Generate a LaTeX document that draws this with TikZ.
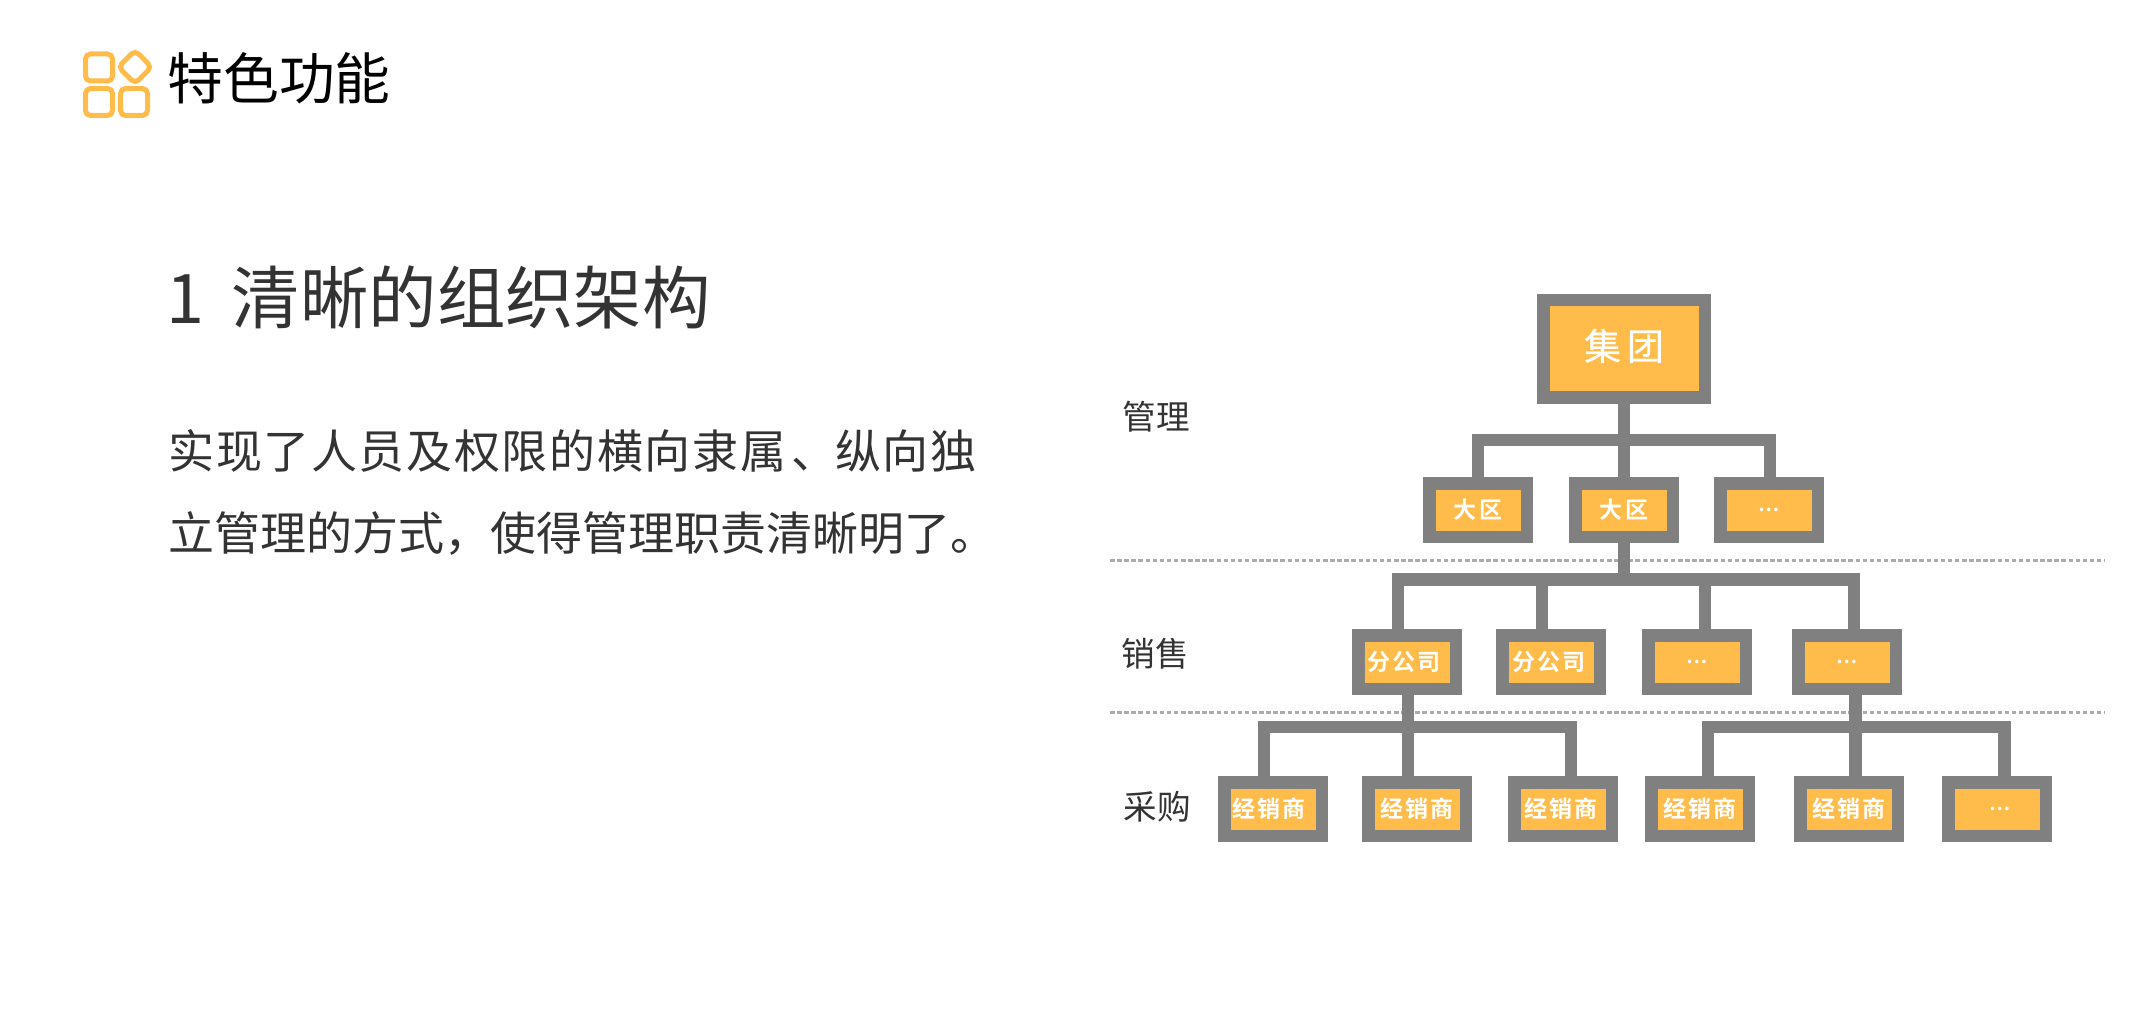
\documentclass[tikz,border=0pt]{standalone}
\usepackage{fontspec}
\newfontfamily\cjk{Noto Sans CJK SC}
\newfontfamily\cjkwide[LetterSpace=3.6]{Noto Sans CJK SC}
\newfontfamily\cjkroot[LetterSpace=16,FakeBold=0.6]{Noto Sans CJK SC}
\newfontfamily\cjkbox[LetterSpace=9]{Noto Sans CJK SC Bold}
\definecolor{boxorange}{HTML}{FFBC4A}
\definecolor{boxgray}{HTML}{808080}
\definecolor{textgray}{HTML}{333333}
\definecolor{guidegray}{HTML}{ABABAB}
\tikzset{
  orgbox/.style={draw=boxgray, fill=boxorange, line width=6.25pt, inner sep=0pt,
    minimum width=48.75pt, minimum height=26.75pt, text=white, font=\cjkbox\fontsize{11.5}{13}\selectfont},
  orgroot/.style={orgbox, minimum width=80.75pt, minimum height=48.75pt, font=\cjkroot\fontsize{18.5}{22}\selectfont},
  orgdots/.style={orgbox, font=\cjkbox\fontsize{9.5}{11}\selectfont},
  orglink/.style={draw=boxgray, line width=6.25pt},
  guide/.style={draw=guidegray, line width=1.5pt, dash pattern=on 2.25pt off 1.3pt},
  tier/.style={text=textgray, inner sep=0pt, font=\cjk\fontsize{16.8}{20}\selectfont},
  iconcell/.style={draw=boxorange, line width=2.5pt, rounded corners=2.5pt, inner sep=0pt, minimum size=13.5pt},
}
\begin{document}
\begin{tikzpicture}[x=0.5pt, y=-0.5pt]
  \useasboundingbox (0,0) rectangle (2136,1010);
  % icon
  \node[iconcell] (iconA) at (99,67.5) {};
  \node[iconcell, minimum size=11.75pt, rotate=45] (iconB) at (135,67) {};
  \node[iconcell] (iconC) at (99,102) {};
  \node[iconcell] (iconD) at (134,102) {};
  % page title
  \node[anchor=west, inner sep=0pt, font=\cjk\fontsize{27.9}{32}\selectfont] (title) at (167,78) {特色功能};
  % left column text
  \node[anchor=west, inner sep=0pt, text=textgray, font=\cjk\fontsize{34.2}{40}\selectfont] (heading) at (166,297) {1\hspace{13.8pt}清晰的组织架构};
  \node[anchor=west, inner sep=0pt, text=textgray, font=\cjkwide\fontsize{23}{28}\selectfont] (bodyA) at (168,451) {实现了人员及权限的横向隶属\kern2.5pt 、\kern-1pt 纵向独};
  \node[anchor=west, inner sep=0pt, text=textgray, font=\cjk\fontsize{23}{28}\selectfont] (bodyB) at (168,534) {立管理的方式，使得管理职责清晰明了。};
  % tier labels
  \node[tier] (tierManage) at (1156,417) {管理};
  \node[tier] (tierSales) at (1155,654) {销售};
  \node[tier] (tierPurchase) at (1157,807) {采购};
  % dotted separators
  \coordinate (guideAL) at (1110,560);
  \coordinate (guideAR) at (2105,560);
  \coordinate (guideBL) at (1110,712);
  \coordinate (guideBR) at (2105,712);
  \draw[guide] (guideAL) -- (guideAR);
  \draw[guide] (guideBL) -- (guideBR);
  % group and regions
  \node[orgroot] (root) at (1624,349) {\raisebox{0pt}[15.5pt][4.5pt]{集团}};
  \node[orgbox] (regionA) at (1478,510) {大区};
  \node[orgbox] (regionB) at (1624,510) {大区};
  \node[orgdots] (regionC) at (1769,510) {…};
  % branch offices
  \node[orgbox] (salesA) at (1407,662) {\hspace*{-3pt}分公司};
  \node[orgbox] (salesB) at (1551,662) {\hspace*{-2pt}分公司};
  \node[orgdots] (salesC) at (1697,662) {…};
  \node[orgdots] (salesD) at (1847,662) {…};
  % dealers
  \node[orgbox] (dealerA) at (1273,809) {\hspace*{-4pt}经销商};
  \node[orgbox] (dealerB) at (1417,809) {经销商};
  \node[orgbox] (dealerC) at (1563,809) {\hspace*{-2pt}经销商};
  \node[orgbox] (dealerD) at (1700,809) {经销商};
  \node[orgbox] (dealerE) at (1849,809) {经销商};
  \node[orgdots] (dealerF) at (1997,809) {…\hspace*{-3pt}};
  % links from group
  \coordinate (busA) at (1624,440);
  \draw[orglink] (root.south) -- (busA) -- (regionB.north);
  \draw[orglink] (busA) -| (regionA.north);
  \draw[orglink] (busA) -| ([xshift=0.5pt]regionC.north);
  % links from region
  \coordinate (busB) at (1624,579.5);
  \draw[orglink] (regionB.south) -- (busB);
  \draw[orglink] (busB) -| ([xshift=-4.5pt]salesA.north);
  \draw[orglink] (busB) -| ([xshift=-4.5pt]salesB.north);
  \draw[orglink] (busB) -| ([xshift=4pt]salesC.north);
  \draw[orglink] (busB) -| ([xshift=3.5pt]salesD.north);
  % links from left office
  \coordinate (busC) at (1408,727);
  \draw[orglink] ([xshift=0.5pt]salesA.south) -- (busC) -- ([xshift=-4.5pt]dealerB.north);
  \draw[orglink] (busC) -| ([xshift=-4.5pt]dealerA.north);
  \draw[orglink] (busC) -| ([xshift=4pt]dealerC.north);
  % links from right office
  \coordinate (busD) at (1855.5,727);
  \draw[orglink] ([xshift=4.25pt]salesD.south) -- (busD) -- ([xshift=3.25pt]dealerE.north);
  \draw[orglink] (busD) -| ([xshift=4pt]dealerD.north);
  \draw[orglink] (busD) -| ([xshift=3.75pt]dealerF.north);
\end{tikzpicture}
\end{document}
